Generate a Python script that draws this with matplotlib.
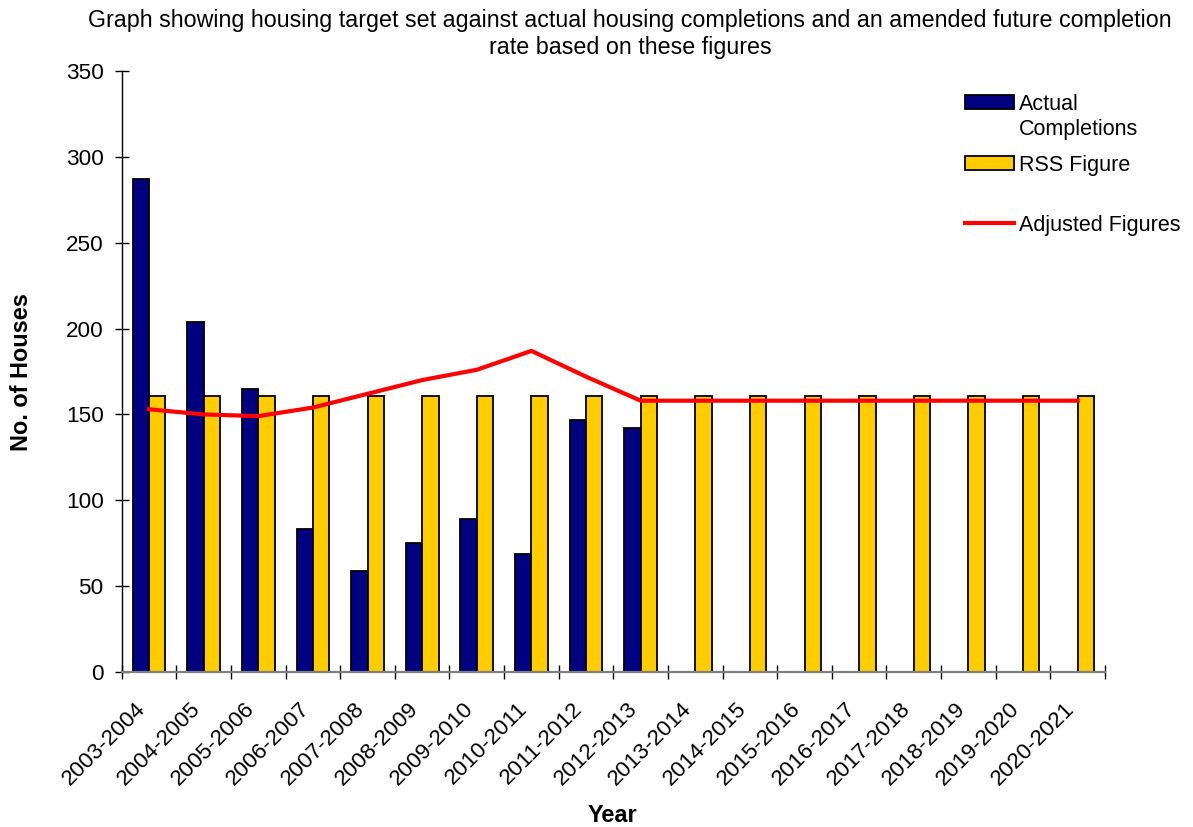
import matplotlib
matplotlib.use("Agg")
import matplotlib.pyplot as plt
import numpy as np
from matplotlib.patches import Patch
from matplotlib.lines import Line2D
import matplotlib.transforms as mtransforms

years = ["2003-2004", "2004-2005", "2005-2006", "2006-2007", "2007-2008", "2008-2009",
         "2009-2010", "2010-2011", "2011-2012", "2012-2013", "2013-2014", "2014-2015",
         "2015-2016", "2016-2017", "2017-2018", "2018-2019", "2019-2020", "2020-2021"]
actual_completions = [287, 204, 165, 83, 59, 75, 89, 69, 147, 142]
rss_figure = [161, 161, 161, 161, 161, 161, 161, 161, 161, 161,
              161, 161, 161, 161, 161, 161, 161, 161]
adjusted_figures = [153, 150, 149, 154, 162, 170, 176, 187, 172, 158,
                    158, 158, 158, 158, 158, 158, 158, 158]
y_ticks = [0, 50, 100, 150, 200, 250, 300, 350]

plt.rcParams['font.family'] = ['Liberation Sans', 'DejaVu Sans']
FS_TICK = 16.2
FS_TITLE = 16.75
FS_LEG = 15.5
FS_LAB = 16.9

fig = plt.figure(figsize=(11.93, 8.27), dpi=100)
ax = fig.add_axes([121.7/1193, 1 - 672/827, (1105 - 121.7)/1193, (672 - 71)/827])

x = np.arange(len(years))
w = 0.3
ax.bar(x[:len(actual_completions)] - w/2, actual_completions, width=w,
       color='#000080', edgecolor='black', linewidth=1.3, zorder=2)
ax.bar(x + w/2, rss_figure, width=w, color='#FFCC00', edgecolor='black',
       linewidth=1.3, zorder=2)
ax.plot(x, adjusted_figures, color='#FF0000', linewidth=3.0, zorder=3,
        solid_joinstyle='round')

ax.set_xlim(-0.5, len(years) - 0.5)
ax.set_ylim(0, 350)
ax.set_yticks(y_ticks)
ax.set_yticklabels([str(v) for v in y_ticks], fontsize=FS_TICK)
ax.tick_params(axis='y', direction='inout', length=10, width=1, color='black', pad=8)

ax.set_xticks(x)
ax.set_xticklabels(years, fontsize=FS_TICK, rotation=45, ha='right', va='top',
                   rotation_mode='anchor')
ax.set_xticks(np.arange(-0.5, len(years), 1.0), minor=True)
ax.tick_params(axis='x', which='major', length=0, pad=19)
ax.tick_params(axis='x', which='minor', direction='inout', length=10, width=1, color='black')
offset = mtransforms.ScaledTranslation(-14/100, 0, fig.dpi_scale_trans)
for lbl in ax.get_xticklabels():
    lbl.set_transform(lbl.get_transform() + offset)

for s in ['top', 'right']:
    ax.spines[s].set_visible(False)
ax.spines['left'].set_color('black')
ax.spines['left'].set_linewidth(1)
ax.spines['bottom'].set_color('#808080')
ax.spines['bottom'].set_linewidth(1.6)

fig.text(22/1193, 1 - 372/827, "No. of Houses", rotation=90, fontsize=FS_LAB,
         fontweight='bold', ha='center', va='center')
fig.text(612/1193, 1 - 815/827, "Year", fontsize=FS_LAB, fontweight='bold',
         ha='center', va='center')

fig.text(630/1193, 1 - 34/827,
         "Graph showing housing target set against actual housing completions and an amended future completion\nrate based on these figures",
         fontsize=FS_TITLE, ha='center', va='center', linespacing=1.2)

# legend entries
leg_kw = dict(frameon=False, fontsize=FS_LEG, handlelength=49/21.5, handleheight=0.6,
              handletextpad=0.25, borderpad=0, borderaxespad=0, loc='center left')
fig.legend(handles=[Patch(facecolor='#000080', edgecolor='black', linewidth=1.3)],
           labels=["Actual"], bbox_to_anchor=(965/1193, 1 - 104/827), **leg_kw)
fig.text(1019/1193, 1 - 129/827, "Completions", fontsize=FS_LEG, ha='left', va='center')
fig.legend(handles=[Patch(facecolor='#FFCC00', edgecolor='black', linewidth=1.3)],
           labels=["RSS Figure"], bbox_to_anchor=(965/1193, 1 - 165/827), **leg_kw)
fig.legend(handles=[Line2D([], [], color='#FF0000', linewidth=3)],
           labels=["Adjusted Figures"], bbox_to_anchor=(965/1193, 1 - 225/827), **leg_kw)

fig.savefig("out.png", dpi=100)
